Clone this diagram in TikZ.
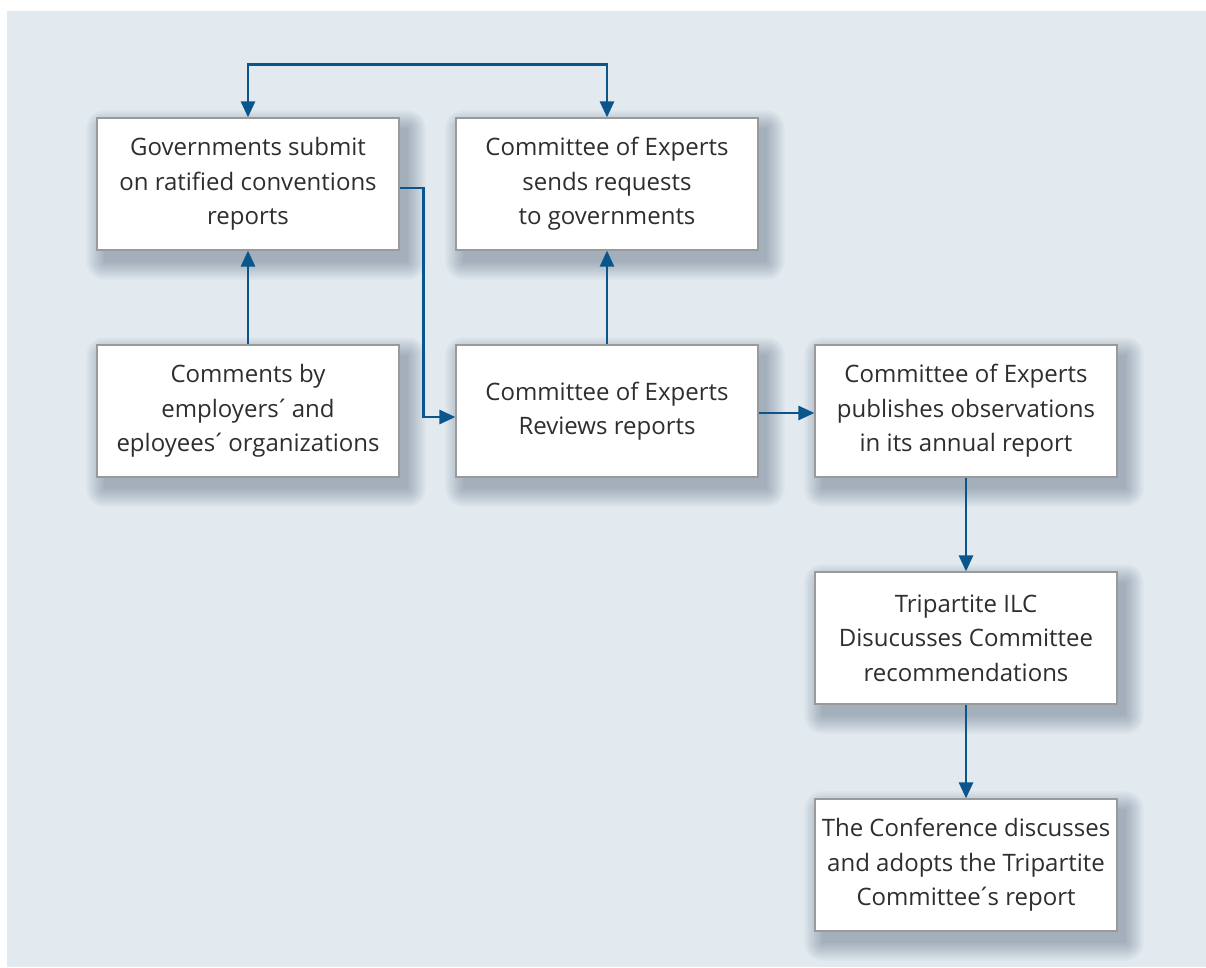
\documentclass[tikz,border=0pt]{standalone}
\usepackage{fontspec}
\setmainfont{Open Sans}
\usetikzlibrary{arrows.meta,backgrounds}
\definecolor{bgblue}{HTML}{E2EAF0}
\definecolor{lineblue}{HTML}{0A568C}
\definecolor{boxedge}{HTML}{9A9A9A}
\definecolor{txt}{HTML}{2E2E2E}
\definecolor{shadowcol}{HTML}{1E3550}
\newcommand{\accmark}{\kern-3.5pt´\kern-3.5pt}
\tikzset{
  stepbox/.style={draw=boxedge, line width=1.2pt, fill=white, inner sep=0pt,
    minimum width=302pt, minimum height=132pt, align=center, text=txt,
    font=\fontsize{24}{34.5}\selectfont},
  conn/.style={draw=lineblue, line width=2.7pt,
    -{Triangle[length=16pt,width=14pt]}},
  conn2/.style={draw=lineblue, line width=2.7pt,
    {Triangle[length=16pt,width=14pt]}-{Triangle[length=16pt,width=14pt]}},
  shadowlayer/.style={fill=shadowcol, fill opacity=0.034}
}
\begin{document}
\begin{tikzpicture}[x=1pt,y=-1pt]
\useasboundingbox (0,0) rectangle (1206,967);
\begin{scope}[on background layer]
\fill[white] (0,0) rectangle (1206,967);
\fill[bgblue] (7,11) rectangle (1206,967);
\end{scope}

\node[stepbox] (gov) at (248,184) {Governments submit\\on ratified conventions\\reports};
\node[stepbox] (req) at (607,184) {Committee of Experts\\sends requests\\to governments};
\node[stepbox] (com) at (248,411) {Comments by\\employers\accmark{} and\\eployees\accmark{} organizations};
\node[stepbox] (rev) at (607,411) {Committee of Experts\\Reviews reports};
\node[stepbox] (pub) at (966,411) {Committee of Experts\\publishes observations\\in its annual report};
\node[stepbox] (tri) at (966,638) {Tripartite ILC\\Disucusses Committee\\recommendations};
\node[stepbox] (conf) at (966,865) {The Conference discusses\\and adopts the Tripartite\\Committee\accmark{}s report};

\begin{scope}[on background layer]
\foreach \n in {gov,req,com,rev,pub,tri,conf}{
  \foreach \r in {0,2,...,18}{
    \fill[shadowlayer, rounded corners=\r pt]
      ([xshift=8pt-\r pt, yshift=-11pt-\r pt]\n.south west) rectangle
      ([xshift=8pt+\r pt, yshift=-11pt+\r pt]\n.north east);
  }
}
\end{scope}

\draw[conn2] (gov.north) -- ++(0,-53) -| (req.north);
\draw[conn] (com.north) -- (gov.south);
\draw[conn] ([yshift=-4pt]gov.east) -- ++(24,0) |- ([yshift=-6pt]rev.west);
\draw[conn] (rev.north) -- (req.south);
\draw[conn] ([yshift=-2pt]rev.east) -- ([yshift=-2pt]pub.west);
\draw[conn] (pub.south) -- (tri.north);
\draw[conn] (tri.south) -- (conf.north);
\end{tikzpicture}
\end{document}
